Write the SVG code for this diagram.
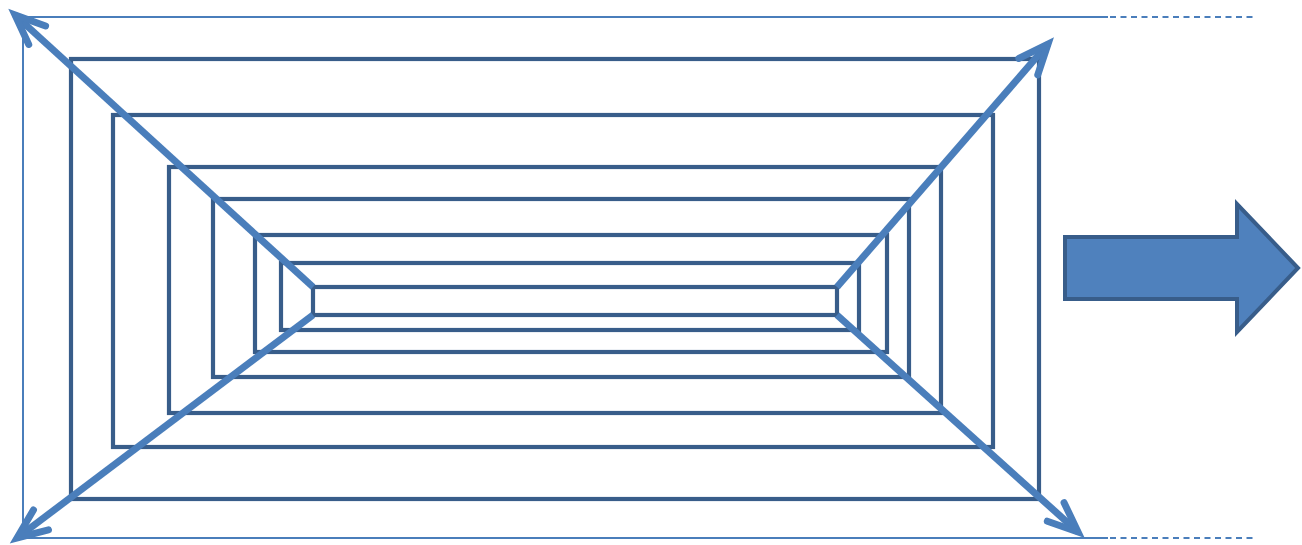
<svg xmlns="http://www.w3.org/2000/svg" width="1302" height="545" viewBox="0 0 1302 545">
<style>
.frame{fill:none;stroke:#385D8A;stroke-width:4.2}
.thin{fill:none;stroke:#4A7EBB;stroke-width:2}
.dash{fill:none;stroke:#4A7EBB;stroke-width:2;stroke-dasharray:6 4.5}
.diag{fill:none;stroke:#4A7EBB;stroke-width:7}
.block{fill:#4F81BD;stroke:#385D8A;stroke-width:4;stroke-linejoin:miter}
</style>
<defs>
<marker id="openArrow" markerUnits="userSpaceOnUse" markerWidth="70" markerHeight="70" refX="0" refY="0" orient="auto" overflow="visible">
<path d="M-30,-12.5 L0,0 L-30,12.5" fill="none" stroke="#4A7EBB" stroke-width="7" stroke-linecap="round" stroke-linejoin="miter" stroke-miterlimit="10"/>
</marker>
</defs>
<g id="guides">
<path class="thin" d="M1108,17 L23,17 L23,538 L1108,538"/>
<path class="dash" d="M1110,17 L1253,17"/>
<path class="dash" d="M1110,538 L1253,538"/>
</g>
<g id="frame1"><rect class="frame" x="71" y="59" width="968" height="440"/></g>
<g id="frame2"><rect class="frame" x="113" y="115" width="880" height="332"/></g>
<g id="frame3"><rect class="frame" x="169" y="167" width="772" height="246"/></g>
<g id="frame4"><rect class="frame" x="213" y="199" width="696" height="178"/></g>
<g id="frame5"><rect class="frame" x="255" y="235" width="632" height="117"/></g>
<g id="frame6"><rect class="frame" x="281" y="263" width="578" height="67"/></g>
<g id="frame7"><rect class="frame" x="313" y="287" width="524" height="28"/></g>
<g id="connectors">
<line class="diag" x1="313" y1="287" x2="15" y2="15" marker-end="url(#openArrow)"/>
<line class="diag" x1="837" y1="287" x2="1048" y2="44" marker-end="url(#openArrow)"/>
<line class="diag" x1="313" y1="315" x2="17" y2="538" marker-end="url(#openArrow)"/>
<line class="diag" x1="837" y1="315" x2="1078" y2="532" marker-end="url(#openArrow)"/>
</g>
<g id="blockArrow">
<path class="block" d="M1065,237 L1237,237 L1237,204 L1298,268 L1237,332 L1237,299 L1065,299 Z"/>
</g>
</svg>
